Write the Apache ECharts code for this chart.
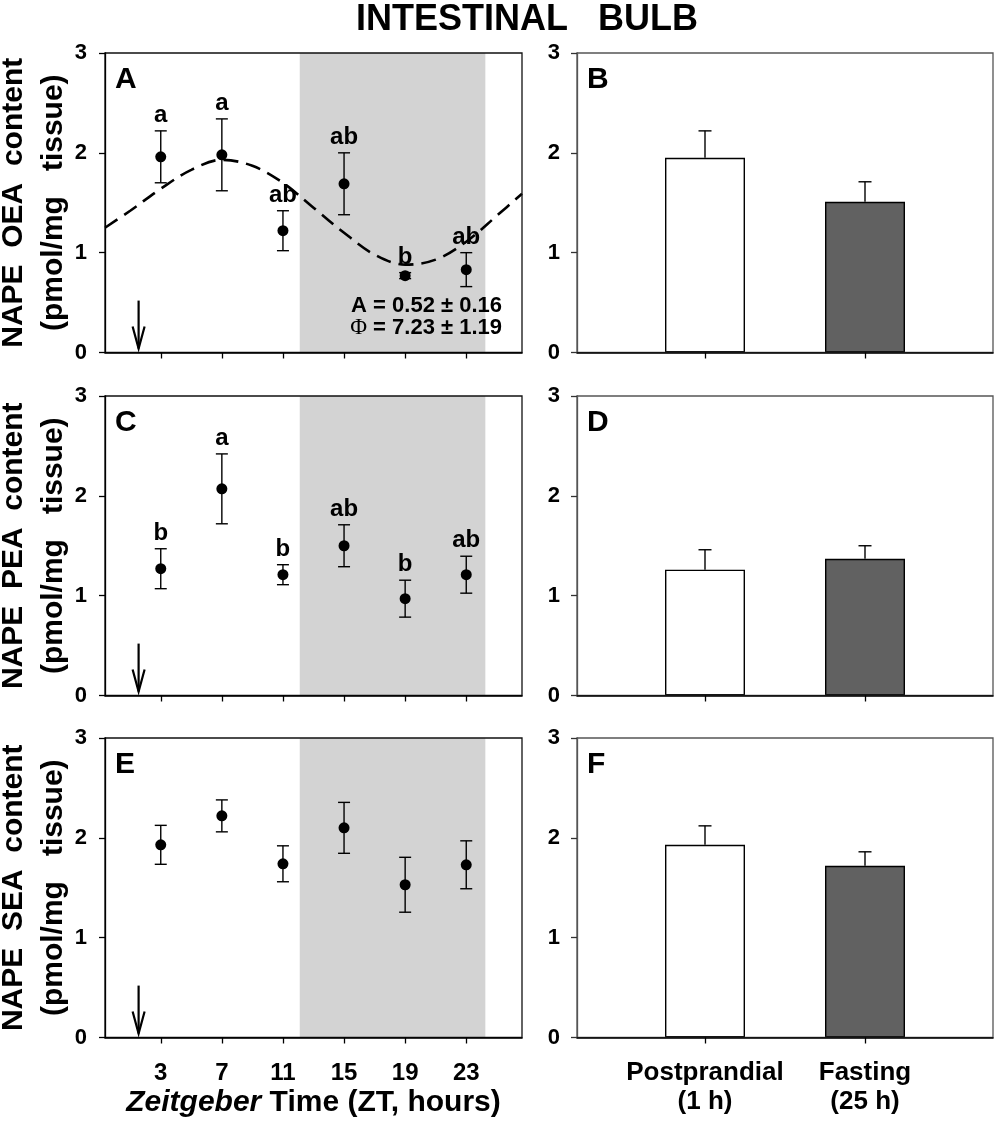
<!DOCTYPE html>
<html>
<head>
<meta charset="utf-8">
<script src="https://cdn.jsdelivr.net/npm/echarts@6/dist/echarts.min.js"></script>
<style>html,body{margin:0;padding:0;background:#fff}#c{width:1000px;height:1125px}</style>
</head>
<body>
<div id="c"></div>
<script>
// ---------- data ----------
const zt = [3, 7, 11, 15, 19, 23];
const oeaMean = [1.96, 1.98, 1.22, 1.69, 0.77, 0.83];
const oeaSe = [0.26, 0.36, 0.20, 0.31, 0.03, 0.17];
const oeaLetters = ['a', 'a', 'ab', 'ab', 'b', 'ab'];
const peaMean = [1.27, 2.07, 1.21, 1.50, 0.97, 1.21];
const peaSe = [0.20, 0.35, 0.10, 0.21, 0.185, 0.185];
const peaLetters = ['b', 'a', 'b', 'ab', 'b', 'ab'];
const seaMean = [1.93, 2.22, 1.74, 2.10, 1.53, 1.73];
const seaSe = [0.195, 0.16, 0.18, 0.255, 0.275, 0.24];
const seaLetters = ['', '', '', '', '', ''];
// cosinor fit curve (panel A)
const cosX = [-0.65, 1, 3, 5, 7, 9, 11, 13, 15, 17, 19, 21, 23, 25, 26.65];
const cosY = [1.25, 1.42, 1.64, 1.83, 1.93, 1.87, 1.70, 1.45, 1.20, 0.98, 0.88, 0.93, 1.11, 1.37, 1.59];
const darkPhase = [12.1, 24.25];
const arrowZT = 1.55;
const arrowRange = [0.52, 0.04];
const groups = ['Postprandial\n(1 h)', 'Fasting\n(25 h)'];
const groupPos = [0, 1];
const oeaBar = [1.95, 1.51], oeaBarSe = [0.27, 0.20];
const peaBar = [1.26, 1.37], peaBarSe = [0.20, 0.13];
const seaBar = [1.93, 1.72], seaBarSe = [0.19, 0.14];
const barColors = ['#ffffff', '#616161'];
const panelLetters = ['A', 'C', 'E', 'B', 'D', 'F'];
const yNames = ['NAPE  OEA  content\n(pmol/mg   tissue)',
                'NAPE  PEA  content\n(pmol/mg   tissue)',
                'NAPE  SEA  content\n(pmol/mg   tissue)'];
const cosinorText = ['A = 0.52 ± 0.16', '{s|Φ} = 7.23 ± 1.19'];

// ---------- layout ----------
const FONT = 'Liberation Sans, Arial, sans-serif';
const tops = [53, 396, 738];
const H = 299.5;
const LL = 105, LW = 417, RL = 577, RW = 416;

const chart = echarts.init(document.getElementById('c'));

const grid = [], xAxis = [], yAxis = [], series = [];
const txtBold = {fontFamily: FONT, fontWeight: 'bold', color: '#000'};

function errRender(capOnlyTop) {
  return function (params, api) {
    const x = api.value(0), lo = api.value(1), hi = api.value(2);
    const a = api.coord([x, hi]), b = api.coord([x, lo]);
    const w = capOnlyTop ? 6.5 : 6;
    const st = {stroke: '#000', lineWidth: 1.4};
    const ch = [
      {type: 'line', shape: {x1: a[0], y1: a[1], x2: b[0], y2: b[1]}, style: st},
      {type: 'line', shape: {x1: a[0] - w, y1: a[1], x2: a[0] + w, y2: a[1]}, style: st}
    ];
    if (!capOnlyTop) ch.push({type: 'line', shape: {x1: b[0] - w, y1: b[1], x2: b[0] + w, y2: b[1]}, style: st});
    return {type: 'group', children: ch};
  };
}

const leftSets = [
  {mean: oeaMean, se: oeaSe, letters: oeaLetters},
  {mean: peaMean, se: peaSe, letters: peaLetters},
  {mean: seaMean, se: seaSe, letters: seaLetters}
];
const rightSets = [
  {v: oeaBar, se: oeaBarSe},
  {v: peaBar, se: peaBarSe},
  {v: seaBar, se: seaBarSe}
];

// left panels
leftSets.forEach((d, i) => {
  const gi = i;
  const last = i === 2;
  grid.push({left: LL, top: tops[i], width: LW, height: H, show: true, borderColor: '#111', borderWidth: 1.3, z: 8,
    containLabel: false, outerBoundsMode: 'none'});
  xAxis.push({
    gridIndex: gi, type: 'value', min: -0.65, max: 26.65, z: 9,
    axisLine: {show: true, onZero: false, lineStyle: {color: '#000', width: 1.5}},
    axisTick: {show: true, inside: false, customValues: zt, length: 6, lineStyle: {color: '#000', width: 1.3}},
    axisLabel: {show: last, customValues: zt, margin: 24, fontSize: 24, ...txtBold},
    splitLine: {show: false},
    name: last ? '{i|Zeitgeber} Time (ZT, hours)' : '',
    nameLocation: 'middle', nameGap: 50, nameMoveOverlap: false,
    nameTextStyle: {fontSize: 30, ...txtBold, rich: {i: {fontSize: 30, fontStyle: 'italic', fontWeight: 'bold', fontFamily: FONT, color: '#000'}}}
  });
  yAxis.push({
    gridIndex: gi, type: 'value', min: 0, max: 3, interval: 1, z: 9,
    axisLine: {show: true, onZero: false, lineStyle: {color: '#000', width: 1.3}},
    axisTick: {show: true, inside: false, length: 6, lineStyle: {color: '#000', width: 1.3}},
    axisLabel: {margin: 18, fontSize: 22, ...txtBold},
    splitLine: {show: false},
    name: yNames[i], nameLocation: 'middle', nameRotate: 90, nameGap: 31, nameMoveOverlap: false,
    nameTextStyle: {fontSize: 30, lineHeight: 40, ...txtBold}
  });
  // dark phase band
  series.push({
    type: 'custom', xAxisIndex: gi, yAxisIndex: gi, z: 1, silent: true,
    data: [[darkPhase[0], darkPhase[1]]],
    renderItem: (p, api) => {
      const a = api.coord([api.value(0), 3]), b = api.coord([api.value(1), 0]);
      return {type: 'rect', shape: {x: a[0], y: a[1], width: b[0] - a[0], height: b[1] - a[1]}, style: {fill: '#d3d3d3'}};
    }
  });
  // cosinor (A)
  if (i === 0) {
    series.push({
      type: 'line', xAxisIndex: gi, yAxisIndex: gi, z: 3, smooth: 0.35, showSymbol: false, silent: true,
      data: cosX.map((x, k) => [x, cosY[k]]),
      lineStyle: {color: '#000', width: 2.6, type: [15, 8]}
    });
  }
  // error bars
  series.push({
    type: 'custom', xAxisIndex: gi, yAxisIndex: gi, z: 4, silent: true,
    data: zt.map((x, k) => [x, d.mean[k] - d.se[k], d.mean[k] + d.se[k]]),
    renderItem: errRender(false)
  });
  // points
  series.push({
    type: 'scatter', xAxisIndex: gi, yAxisIndex: gi, z: 5, symbolSize: 11, silent: true,
    itemStyle: {color: '#000', opacity: 1},
    data: zt.map((x, k) => [x, d.mean[k]])
  });
  // letters
  series.push({
    type: 'scatter', xAxisIndex: gi, yAxisIndex: gi, z: 6, symbolSize: 1, silent: true,
    itemStyle: {color: 'rgba(0,0,0,0)', opacity: 1},
    data: zt.map((x, k) => [x, d.mean[k] + d.se[k], d.letters[k]]),
    label: {show: true, position: 'top', distance: 3, formatter: p => p.data[2], fontSize: 24, opacity: 1, ...txtBold}
  });
  // feeding arrow
  series.push({
    type: 'custom', xAxisIndex: gi, yAxisIndex: gi, z: 5, silent: true,
    data: [[arrowZT, arrowRange[0], arrowRange[1]]],
    renderItem: (p, api) => {
      const a = api.coord([api.value(0), api.value(1)]), t = api.coord([api.value(0), api.value(2)]);
      const st = {stroke: '#000', lineWidth: 2.2, fill: null};
      return {type: 'group', children: [
        {type: 'line', shape: {x1: a[0], y1: a[1], x2: t[0], y2: t[1]}, style: st},
        {type: 'polyline', shape: {points: [[t[0] - 6, t[1] - 22], [t[0], t[1]], [t[0] + 6, t[1] - 22]]}, style: st}
      ]};
    }
  });
});

// right panels
rightSets.forEach((d, i) => {
  const gi = 3 + i;
  const last = i === 2;
  grid.push({left: RL, top: tops[i], width: RW, height: H, show: true, borderColor: '#555', borderWidth: 1.3, z: 8,
    containLabel: false, outerBoundsMode: 'none'});
  xAxis.push({
    gridIndex: gi, type: 'value', min: -0.8, max: 1.8, z: 9,
    axisLine: {show: true, onZero: false, lineStyle: {color: '#000', width: 1.5}},
    axisTick: {show: true, inside: false, customValues: groupPos, length: 6, lineStyle: {color: '#000', width: 1.3}},
    axisLabel: {show: last, customValues: groupPos, margin: 21, fontSize: 26, lineHeight: 29,
      formatter: v => groups[Math.round(v)], ...txtBold},
    splitLine: {show: false}
  });
  yAxis.push({
    gridIndex: gi, type: 'value', min: 0, max: 3, interval: 1, z: 9,
    axisLine: {show: true, onZero: false, lineStyle: {color: '#555', width: 1.3}},
    axisTick: {show: true, inside: false, length: 6, lineStyle: {color: '#333', width: 1.3}},
    axisLabel: {margin: 17, fontSize: 22, ...txtBold},
    splitLine: {show: false}
  });
  series.push({
    type: 'bar', xAxisIndex: gi, yAxisIndex: gi, z: 3, barWidth: 80, silent: true,
    data: groupPos.map((x, k) => ({value: [x, d.v[k]], itemStyle: {color: barColors[k], borderColor: '#000', borderWidth: 1.4}}))
  });
  series.push({
    type: 'custom', xAxisIndex: gi, yAxisIndex: gi, z: 4, silent: true,
    data: groupPos.map((x, k) => [x, d.v[k], d.v[k] + d.se[k]]),
    renderItem: errRender(true)
  });
});

// texts
const graphic = [
  {type: 'text', z: 100, x: 527, y: 20, style: {text: 'INTESTINAL   BULB', font: 'bold 36px ' + FONT, fill: '#000', align: 'center', verticalAlign: 'middle'}}
];
panelLetters.forEach((L, k) => {
  const col = k < 3 ? 0 : 1, row = k % 3;
  graphic.push({type: 'text', z: 100, x: (col ? RL : LL) + 10, y: tops[row] + 27,
    style: {text: L, font: 'bold 30px ' + FONT, fill: '#000', align: 'left', verticalAlign: 'middle'}});
});
graphic.push({type: 'text', z: 100, x: 502, y: 306, style: {text: cosinorText[0], font: 'bold 22px ' + FONT, fill: '#000', align: 'right', verticalAlign: 'middle'}});
graphic.push({type: 'text', z: 100, x: 502, y: 328, style: {text: cosinorText[1], font: 'bold 22px ' + FONT, fill: '#000', align: 'right', verticalAlign: 'middle',
  rich: {s: {fontFamily: 'Liberation Serif, serif', fontWeight: 'normal', fontSize: 23, fill: '#000'}}}});

chart.setOption({
  animation: false,
  backgroundColor: '#fff',
  grid, xAxis, yAxis, series,
  graphic: {elements: graphic}
});
</script>
</body>
</html>
